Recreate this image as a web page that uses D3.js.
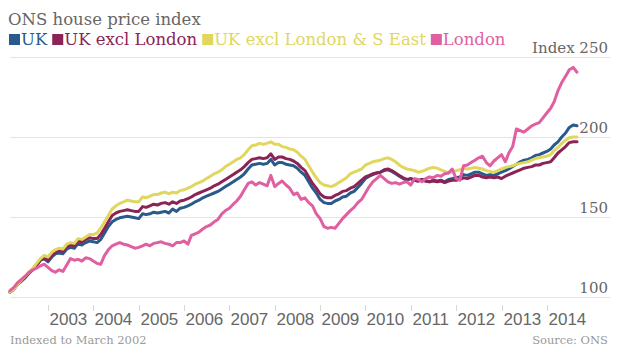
<!DOCTYPE html>
<html><head><meta charset="utf-8">
<script src="https://cdn.jsdelivr.net/npm/d3@7"></script>
<style>body{margin:0;background:#fff}svg{display:block}</style>
</head><body>
<svg id="c" width="620" height="349"></svg>
<script>
// ---- data ----
const seriesNames = ["UK", "UK excl London", "UK excl London & S East", "London"];
const seriesColors = ["#285a8c", "#8b2355", "#e1d65e", "#e05fa0"];
const firstMonth = "2002-03";
const lastMonth = "2014-09";
const ukValues = [
  103,105,108,110,112,115,117,120,123,124,
  122,125,127,127.5,127,130,131,130.5,133.5,132.5,134,135,
  134.5,134,136,140,144,147,148.5,149.5,150,150.5,150,149.5,
  149,152,151.5,152,153,152.5,153,153.5,152.5,155,153.5,155.5,
  156,157,158,159.5,160.5,162,163,164,165,166,167.5,169,
  170.5,172,173.5,175,177,180,182.5,183,183.5,183,183.5,186,
  182.5,184,184,183,182.5,182,180.5,178,176,172,168,165,
  161,159,158.5,158.5,160,161,162.5,163,165,166,168.5,171,
  174,175.5,176.5,177.5,178,179,179.5,178.5,177,175.5,174,173,
  174,173,172.5,173.5,172.5,172,173,172.5,173,172,173.5,174,
  174.5,175,176.5,176,177,178,178,177,176,176.5,176,177,
  178,179,180,181.5,183,184.5,185.5,186,187,188.5,189,190,
  191,192.5,195,197,200,202.5,206,207.5,207
];
const ukExLondonValues = [
  103,105,108,110,112.5,115,117.5,120,123,124.5,
  123,126,128,129,128.5,131.5,132.5,132,135,134.5,136,137,
  136.5,136.5,139,143,147,151,152.5,153.5,154,154.5,154,153.5,
  153.5,156.5,156,157,158,157.5,158.5,159,158,159.5,158.5,160,
  160.5,161.5,162.5,164,165,166,167,168,169.5,170.5,172,173.5,
  175,176.5,178,179.5,181.5,184,186,186.5,187,186.5,187,189.5,
  186,187.5,187.5,186.5,186,185,183.5,181,179,175,171,168,
  164.5,162.5,162,162,163.5,164.5,166,166.5,168,169,171,173,
  175,176,177,177.5,178,179.5,180,179,177.5,176,174.5,173.5,
  174,173,172.5,173.5,172.5,172,172.5,172,172.5,171.5,172.5,173,
  173,173.5,174.5,174,175,176,176,175,174.5,175,174.5,175,
  174,175.5,176.5,177.5,178.5,179.5,180.5,181,181.5,182.5,182.5,183.5,
  184,184.5,187,190,192,194,196.5,197,197
];
const ukExLondonSEValues = [
  103,105,108,110.5,113,115.5,118,121,124,126,
  125,128,129.5,130.5,130,133,134,133.5,136.5,136,137.5,139,
  139,140,143,147,151,155,157,158.5,159.5,160.5,160,159.5,
  159.5,162.5,162,163,164,164,165,165.5,164.5,165.5,165,166.5,
  167,168,169,170.5,171.5,172.5,174,175.5,177,178,179.5,181.5,
  183,184.5,186,187,189,192,194.5,195,196,195.5,196,197,
  195.5,195.5,194,193.5,192.5,192,190.5,188,186,182,178,174.5,
  171.5,170,169.5,169,170,171.5,173,174.5,177,178,179,180,
  182.5,183.5,184.5,185,185.5,186.5,187,186,184.5,182.5,181,180,
  179.5,179,178,178.5,179.5,180.5,181,180.5,179.5,178.5,177.5,178,
  179,179.5,180.5,180,180.5,181,180.5,180,179,178.5,178,179,
  180,181,181.5,182,183,183.5,184,184.5,185.5,186.5,187,187.5,
  188,189,191.5,193.5,196,198,199.5,200,200
];
const londonValues = [
  104,106,109,111,113,115.5,117,118,119.5,120.5,
  118.5,116.5,115.5,117,116,120,124,123,123.5,122.5,124.5,124,
  122.5,121,120.5,126,129.5,132,133,134,133,132.5,131.5,130.5,
  131,132,133,132,133.5,134,134.5,133.5,133,132,134,134,
  135,133,138.5,139.5,140.5,142.5,144,145,147,148.5,152,154,
  155.5,158,160,163,167,171,172,170,171.5,170.5,169.5,176,
  169,171,172.5,170,168,164,165,161,162,159,157,152,
  149,144,143,143.5,143,146,149,151.5,154,156,159,161,
  165,169,172,174,176,174,172,171,171.5,170.5,171.5,172,
  170,174,173.5,172,174,175,174.5,176,175.5,177,177.5,180,
  174,173,182,182.5,184,185.5,187,188,184,182,185,187,
  189,184.5,190,194,205,204,203,205,207,208,209,212,
  215,218,222,229,234,238,242,243.5,240.5
];
const yTickValues = [100, 150, 200, 250];
const yearLabels = ["2003","2004","2005","2006","2007","2008","2009","2010","2011","2012","2013","2014"];
const titleText = "ONS house price index";
const noteText = "Indexed to March 2002";
const sourceText = "Source: ONS";

// ---- chart ----
const svg = d3.select("#c");
const parseM = d3.timeParse("%Y-%m");
const months = d3.timeMonth.range(parseM(firstMonth), d3.timeMonth.offset(parseM(lastMonth), 1));
const allSeries = [ukValues, ukExLondonValues, ukExLondonSEValues, londonValues];

const x = d3.scaleTime().domain([parseM(firstMonth), parseM(lastMonth)]).range([10, 577]);
const y = d3.scaleLinear().domain([100, 250]).range([297, 57]);

const serif = "'DejaVu Serif', serif";
const sans = "'Liberation Sans', Arial, sans-serif";

// title
svg.append("text").attr("x", 8).attr("y", 25).attr("font-family", serif)
  .attr("font-size", 16.5).attr("fill", "#666").text(titleText);

// legend
let lx = 9;
seriesNames.forEach((n, i) => {
  svg.append("rect").attr("x", lx).attr("y", 34).attr("width", 11).attr("height", 11).attr("fill", seriesColors[i]);
  const t = svg.append("text").attr("x", lx + 12).attr("y", 45).attr("font-family", serif)
    .attr("font-size", 16.5).attr("fill", seriesColors[i] === "#e1d65e" ? "#e1d65e" : seriesColors[i]).text(n);
  lx += 12 + t.node().getComputedTextLength() + 5;
});

// gridlines + y labels
const yAxis = svg.append("g");
yTickValues.forEach(v => {
  yAxis.append("line").attr("x1", 10).attr("x2", 610)
    .attr("y1", Math.round(y(v)) + 0.5).attr("y2", Math.round(y(v)) + 0.5)
    .attr("stroke", "#e4e4e4").attr("stroke-width", 1);
  yAxis.append("text").attr("x", 608).attr("y", y(v) - 4).attr("text-anchor", "end")
    .attr("font-family", serif).attr("font-size", 15).attr("fill", "#666")
    .text(v === 250 ? "Index " + v : v);
});

// x axis
const xg = svg.append("g");
yearLabels.forEach(yr => {
  const d = parseM(yr + "-01");
  const xx = Math.round(x(d)) + 0.5;
  xg.append("line").attr("x1", xx).attr("x2", xx).attr("y1", 305).attr("y2", 311)
    .attr("stroke", "#d8d8d8").attr("stroke-width", 1);
  xg.append("text").attr("x", xx + 1).attr("y", 325).attr("font-family", sans)
    .attr("font-size", 17).attr("fill", "#666").text(yr);
});

// lines
const line = d3.line().x((d, i) => x(months[i])).y(d => y(d));
allSeries.forEach((vals, i) => {
  svg.append("path").datum(vals).attr("d", line).attr("fill", "none")
    .attr("stroke", seriesColors[i]).attr("stroke-width", 3)
    .attr("stroke-linejoin", "round").attr("stroke-linecap", "round");
});

// footer
svg.append("text").attr("x", 10).attr("y", 344).attr("font-family", serif)
  .attr("font-size", 11.5).attr("fill", "#9a9a9a").text(noteText);
svg.append("text").attr("x", 608).attr("y", 344).attr("text-anchor", "end").attr("font-family", serif)
  .attr("font-size", 11.5).attr("fill", "#9a9a9a").text(sourceText);
</script>
</body></html>
